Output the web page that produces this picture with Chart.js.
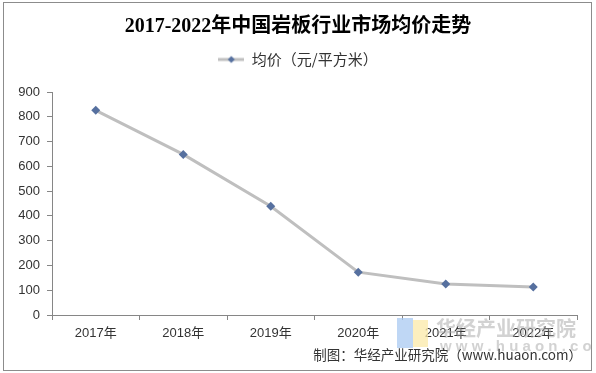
<!DOCTYPE html>
<html>
<head>
<meta charset="utf-8">
<script src="https://cdn.jsdelivr.net/npm/chart.js@4/dist/chart.umd.min.js"></script>
<style>
  html, body { margin: 0; padding: 0; background: #ffffff; }
  #wrap { width: 596px; height: 373px; position: relative; }
</style>
</head>
<body>
<div id="wrap"><canvas id="c" width="596" height="373"></canvas></div>
<script>
const categories = ['2017年', '2018年', '2019年', '2020年', '2021年', '2022年'];
const avgPrice = [826, 648, 439, 173, 125, 113];
const seriesName = '均价（元/平方米）';
const chartTitle = '2017-2022年中国岩板行业市场均价走势';
const footerText = '制图：华经产业研究院（www.huaon.com）';
const yTicks = [0, 100, 200, 300, 400, 500, 600, 700, 800, 900];

const LINE_COLOR = '#bfbfbf';
const MARK_COLOR = '#56709f';
const AXIS_COLOR = '#868686';
const TEXT_COLOR = '#333333';
const CJK = '"Noto Sans CJK SC", sans-serif';
const LAT = '"Liberation Sans", "Noto Sans CJK SC", sans-serif';
const SERIF = '"Liberation Serif", "Noto Sans CJK SC", serif';

// legend swatch: line with diamond marker
const sw = document.createElement('canvas');
sw.width = 26; sw.height = 10;
(function () {
  const g = sw.getContext('2d');
  g.strokeStyle = LINE_COLOR; g.lineWidth = 3;
  g.beginPath(); g.moveTo(0, 5); g.lineTo(26, 5); g.stroke();
  g.fillStyle = MARK_COLOR;
  g.beginPath(); g.moveTo(13, 1.5); g.lineTo(16.5, 5); g.lineTo(13, 8.5); g.lineTo(9.5, 5); g.closePath(); g.fill();
})();

const decor = {
  id: 'decor',
  beforeDraw(chart) {
    const ctx = chart.ctx;
    ctx.save();
    ctx.fillStyle = '#ffffff';
    ctx.fillRect(0, 0, chart.width, chart.height);
    ctx.restore();
  },
  afterDraw(chart) {
    const ctx = chart.ctx;
    ctx.save();
    // watermark logo
    ctx.globalAlpha = 0.75;
    ctx.fillStyle = '#a9c9f2';
    ctx.fillRect(397, 318, 16, 30);
    ctx.fillStyle = '#fbeaa8';
    ctx.fillRect(413, 320, 15, 27);
    ctx.globalAlpha = 1;
    ctx.fillStyle = 'rgba(165,165,165,0.5)';
    ctx.textAlign = 'left';
    ctx.textBaseline = 'middle';
    ctx.font = 'bold 20px ' + CJK;
    ctx.fillText('华经产业研究院', 436, 328);
    ctx.font = 'bold 15px ' + LAT;
    ctx.fillText('w w w . h u a o n . c o m', 440, 347);
    // footer
    ctx.fillStyle = TEXT_COLOR;
    ctx.textAlign = 'right';
    ctx.font = '13.5px ' + CJK;
    ctx.fillText(footerText, 582, 355);
    // outer border
    ctx.strokeStyle = '#8c8c8c';
    ctx.lineWidth = 1;
    ctx.strokeRect(3.5, 2.5, 588, 368);
    ctx.restore();
  }
};

new Chart(document.getElementById('c'), {
  type: 'line',
  data: {
    labels: categories,
    datasets: [{
      label: seriesName,
      data: avgPrice,
      yAxisID: 'y',
      borderColor: LINE_COLOR,
      borderWidth: 3,
      pointStyle: 'rectRot',
      pointRadius: 4.5,
      pointBackgroundColor: MARK_COLOR,
      pointBorderColor: MARK_COLOR,
      pointBorderWidth: 0,
      tension: 0,
      fill: false
    }]
  },
  options: {
    responsive: false,
    animation: false,
    devicePixelRatio: 1,
    layout: { padding: { left: 0, right: 0, top: 0, bottom: 0 } },
    plugins: {
      title: {
        display: true,
        text: chartTitle,
        color: '#000000',
        font: { family: SERIF, size: 20, weight: 'bold', lineHeight: 1.2 },
        padding: { top: 15, bottom: 0 }
      },
      subtitle: {
        display: true,
        text: ' ',
        weight: 500,
        font: { size: 10, lineHeight: 1 },
        padding: { top: 5, bottom: 0 }
      },
      legend: {
        display: true,
        position: 'top',
        labels: {
          color: TEXT_COLOR,
          font: { family: CJK, size: 15 },
          padding: 13,
          usePointStyle: true,
          pointStyleWidth: 26,
          generateLabels: (chart) => [{
            text: seriesName,
            pointStyle: sw,
            fillStyle: MARK_COLOR,
            strokeStyle: MARK_COLOR,
            lineWidth: 0,
            fontColor: TEXT_COLOR,
            datasetIndex: 0,
            hidden: false
          }]
        }
      },
      tooltip: { enabled: false }
    },
    scales: {
      x: {
        offset: true,
        afterFit: (s) => { s.height = 58; },
        grid: { display: true, offset: true, drawOnChartArea: false, tickLength: 5, color: AXIS_COLOR },
        border: { color: AXIS_COLOR, width: 1 },
        ticks: { color: TEXT_COLOR, font: { family: LAT, size: 13 }, padding: 6, maxRotation: 0 }
      },
      y: {
        position: 'left',
        min: 0,
        max: 900,
        afterFit: (s) => { s.width = 52; },
        afterBuildTicks: (s) => { s.ticks = yTicks.map(v => ({ value: v })); },
        grid: { display: true, drawOnChartArea: false, tickLength: 5, color: AXIS_COLOR },
        border: { color: AXIS_COLOR, width: 1 },
        ticks: { color: TEXT_COLOR, font: { family: LAT, size: 13 }, padding: 7 }
      },
      yRight: {
        type: 'linear',
        position: 'right',
        display: true,
        min: 0,
        max: 900,
        afterFit: (s) => { s.width = 19; },
        grid: { display: false, drawTicks: false },
        border: { display: false },
        ticks: { display: false }
      }
    }
  },
  plugins: [decor]
});
</script>
</body>
</html>
